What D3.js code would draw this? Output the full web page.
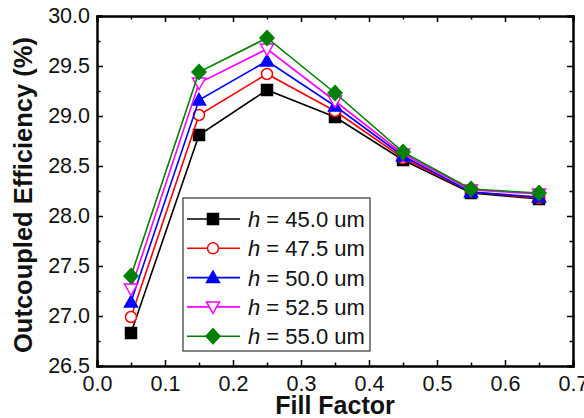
<!DOCTYPE html>
<html>
<head>
<meta charset="utf-8">
<script src="https://cdn.jsdelivr.net/npm/d3@7"></script>
<style>
  body { margin: 0; background: #fff; }
  text { font-family: "Liberation Sans", Arial, sans-serif; fill: #111; }
</style>
</head>
<body>
<div id="chart"></div>
<script>
let width = 584, height = 418;
let margin = {left: 97, top: 16, right: 11, bottom: 52};

let fillFactor = [0.05, 0.15, 0.25, 0.35, 0.45, 0.55, 0.65];
let h450 = [26.83, 28.81, 29.26, 28.99, 28.56, 28.23, 28.17];
let h475 = [26.99, 29.01, 29.42, 29.05, 28.58, 28.24, 28.18];
let h500 = [27.14, 29.16, 29.55, 29.10, 28.60, 28.24, 28.19];
let h525 = [27.27, 29.33, 29.67, 29.15, 28.62, 28.26, 28.22];
let h550 = [27.40, 29.44, 29.78, 29.23, 28.64, 28.27, 28.23];
let seriesLabels = ['45.0', '47.5', '50.0', '52.5', '55.0'];
let xTicks = [0.0, 0.1, 0.2, 0.3, 0.4, 0.5, 0.6, 0.7];
let yTicks = [26.5, 27.0, 27.5, 28.0, 28.5, 29.0, 29.5, 30.0];

let series = [
    {label: seriesLabels[0], values: h450, color: '#000000', shape: 'square', open: false},
    {label: seriesLabels[1], values: h475, color: '#ff0000', shape: 'circle', open: true},
    {label: seriesLabels[2], values: h500, color: '#0000ff', shape: 'up', open: false},
    {label: seriesLabels[3], values: h525, color: '#ff00ff', shape: 'down', open: true},
    {label: seriesLabels[4], values: h550, color: '#008000', shape: 'diamond', open: false}
];

let svg = d3.select('#chart')
    .append('svg')
    .attr('width', width)
    .attr('height', height);

let x = d3.scaleLinear().domain([0, 0.7]).range([margin.left, width - margin.right]);
let y = d3.scaleLinear().domain([26.5, 30.0]).range([height - margin.bottom, margin.top]);

// marker path generator
function markerPath(shape) {
    if (shape === 'square') return 'M-5.5,-5.5H5.5V5.5H-5.5Z';
    if (shape === 'circle') return 'M5.5,0A5.5,5.5 0 1,1 -5.5,0A5.5,5.5 0 1,1 5.5,0Z';
    if (shape === 'up') return 'M0,-6.5L6.5,5L-6.5,5Z';
    if (shape === 'down') return 'M0,6.5L6.5,-5L-6.5,-5Z';
    return 'M0,-7.5L7,0L0,7.5L-7,0Z';
}

let line = d3.line()
    .x((d, i) => x(fillFactor[i]))
    .y(d => y(d));

series.forEach(s => {
    let g = svg.append('g');
    g.append('path')
        .attr('d', line(s.values))
        .attr('fill', 'none')
        .attr('stroke', s.color)
        .attr('stroke-width', 1.6);
    g.selectAll('path.mk')
        .data(s.values)
        .enter()
        .append('path')
        .attr('class', 'mk')
        .attr('transform', (d, i) => 'translate(' + x(fillFactor[i]) + ',' + y(d) + ')')
        .attr('d', markerPath(s.shape))
        .attr('fill', s.open ? '#fff' : s.color)
        .attr('stroke', s.color)
        .attr('stroke-width', 1.5);
});

// axes, ticks inside
let xMinor = d3.range(0.05, 0.7, 0.1);
let yMinor = d3.range(26.75, 30.0, 0.5);

svg.append('g')
    .attr('transform', 'translate(0,' + y(26.5) + ')')
    .call(d3.axisBottom(x).tickValues(xTicks).tickSize(-6).tickPadding(10).tickFormat(d3.format('.1f')))
    .call(g => g.selectAll('text').attr('dy', '0.71em'));
svg.append('g')
    .attr('transform', 'translate(0,' + y(26.5) + ')')
    .call(d3.axisBottom(x).tickValues(xMinor).tickSize(-3.5).tickFormat(''));
svg.append('g')
    .attr('transform', 'translate(0,' + y(30) + ')')
    .call(d3.axisTop(x).tickValues(xTicks).tickSize(-6).tickFormat(''));
svg.append('g')
    .attr('transform', 'translate(0,' + y(30) + ')')
    .call(d3.axisTop(x).tickValues(xMinor).tickSize(-3.5).tickFormat(''));

svg.append('g')
    .attr('transform', 'translate(' + x(0) + ',0)')
    .call(d3.axisLeft(y).tickValues(yTicks).tickSize(-6).tickPadding(7).tickFormat(d3.format('.1f')));
svg.append('g')
    .attr('transform', 'translate(' + x(0) + ',0)')
    .call(d3.axisLeft(y).tickValues(yMinor).tickSize(-3.5).tickFormat(''));
svg.append('g')
    .attr('transform', 'translate(' + x(0.7) + ',0)')
    .call(d3.axisRight(y).tickValues(yTicks).tickSize(-6).tickFormat(''));
svg.append('g')
    .attr('transform', 'translate(' + x(0.7) + ',0)')
    .call(d3.axisRight(y).tickValues(yMinor).tickSize(-3.5).tickFormat(''));

svg.selectAll('.domain').attr('stroke', '#000').attr('stroke-width', 2);
svg.selectAll('.tick line').attr('stroke', '#000').attr('stroke-width', 1.5);
svg.selectAll('.tick text')
    .style('font-family', '"Liberation Sans", Arial, sans-serif')
    .attr('font-size', 21.5)
    .attr('fill', '#222');

// axis titles
svg.append('text')
    .attr('x', (x(0) + x(0.7)) / 2)
    .attr('y', 414)
    .attr('text-anchor', 'middle')
    .attr('font-size', 25)
    .attr('font-weight', 'bold')
    .text('Fill Factor');

svg.append('text')
    .attr('transform', 'translate(32,195) rotate(-90)')
    .attr('text-anchor', 'middle')
    .attr('font-size', 25.5)
    .attr('font-weight', 'bold')
    .text('Outcoupled Efficiency (%)');

// legend
let legend = svg.append('g').attr('transform', 'translate(183,198)');
legend.append('rect')
    .attr('width', 187)
    .attr('height', 153)
    .attr('fill', '#fff')
    .attr('stroke', '#333')
    .attr('stroke-width', 1.2);

let rows = legend.selectAll('g.row')
    .data(series)
    .enter()
    .append('g')
    .attr('transform', (d, i) => 'translate(0,' + (21 + i * 29.3) + ')');
rows.append('line')
    .attr('x1', 4).attr('x2', 57)
    .attr('stroke', d => d.color)
    .attr('stroke-width', 1.6);
rows.append('path')
    .attr('transform', 'translate(30,0)')
    .attr('d', d => markerPath(d.shape))
    .attr('fill', d => d.open ? '#fff' : d.color)
    .attr('stroke', d => d.color)
    .attr('stroke-width', 1.5);
let lt = rows.append('text')
    .attr('x', 65)
    .attr('dy', '0.36em')
    .attr('font-size', 22);
lt.append('tspan').attr('font-style', 'italic').text('h');
lt.append('tspan').text(d => ' = ' + d.label + ' um');
</script>
</body>
</html>
